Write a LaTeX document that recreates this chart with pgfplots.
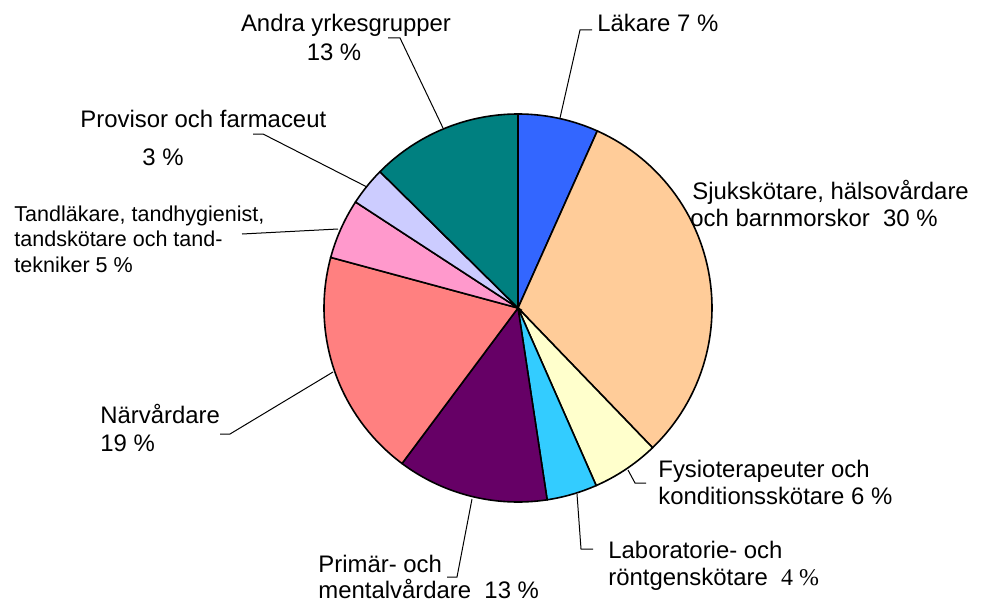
\documentclass[border=0pt]{standalone}
\usepackage{pgfplots}
\pgfplotsset{compat=1.18}
\usepackage{fontspec}
\setmainfont{Liberation Sans}
\newfontfamily\serif{Liberation Serif}

\definecolor{lakare}{HTML}{3366FF}
\definecolor{sjuk}{HTML}{FFCC99}
\definecolor{fysio}{HTML}{FFFFCC}
\definecolor{lab}{HTML}{33CCFF}
\definecolor{primar}{HTML}{660066}
\definecolor{narv}{HTML}{FF8080}
\definecolor{tand}{HTML}{FF99CC}
\definecolor{prov}{HTML}{CCCCFF}
\definecolor{andra}{HTML}{008080}

% pie in pixel units: centre (518,308), radius 194, start at top, clockwise
\pgfplotsset{slice/.style={draw=black, line width=0.8bp, samples=60, variable=\t}}
\newcommand{\lbl}{\fontsize{12}{14}\selectfont}
\newcommand{\lbs}{\fontsize{10.8}{12.6}\selectfont}

\begin{document}
\begin{tikzpicture}
\begin{axis}[
    scale only axis, width=493bp, height=302bp,
    xmin=0, xmax=986, ymin=0, ymax=604,
    y dir=reverse, hide axis, clip=false,
]
\path (axis cs:0,0) rectangle (axis cs:986,604);

% shares (percent): 6.7, 31.1, 5.6, 4.2, 12.6, 19.0, 5.0, 3.2, 12.6
% cumulative:       6.7, 37.8, 43.4, 47.6, 60.2, 79.2, 84.2, 87.4, 100
\addplot[slice, fill=lakare, domain={90-3.6*6.7}:{90-3.6*0}]
  ({518+194*cos(\t)},{308-194*sin(\t)}) -- (axis cs:518,308) -- cycle;
\addplot[slice, fill=sjuk, domain={90-3.6*37.8}:{90-3.6*6.7}]
  ({518+194*cos(\t)},{308-194*sin(\t)}) -- (axis cs:518,308) -- cycle;
\addplot[slice, fill=fysio, domain={90-3.6*43.4}:{90-3.6*37.8}]
  ({518+194*cos(\t)},{308-194*sin(\t)}) -- (axis cs:518,308) -- cycle;
\addplot[slice, fill=lab, domain={90-3.6*47.6}:{90-3.6*43.4}]
  ({518+194*cos(\t)},{308-194*sin(\t)}) -- (axis cs:518,308) -- cycle;
\addplot[slice, fill=primar, domain={90-3.6*60.2}:{90-3.6*47.6}]
  ({518+194*cos(\t)},{308-194*sin(\t)}) -- (axis cs:518,308) -- cycle;
\addplot[slice, fill=narv, domain={90-3.6*79.2}:{90-3.6*60.2}]
  ({518+194*cos(\t)},{308-194*sin(\t)}) -- (axis cs:518,308) -- cycle;
\addplot[slice, fill=tand, domain={90-3.6*84.2}:{90-3.6*79.2}]
  ({518+194*cos(\t)},{308-194*sin(\t)}) -- (axis cs:518,308) -- cycle;
\addplot[slice, fill=prov, domain={90-3.6*87.4}:{90-3.6*84.2}]
  ({518+194*cos(\t)},{308-194*sin(\t)}) -- (axis cs:518,308) -- cycle;
\addplot[slice, fill=andra, domain={90-3.6*100}:{90-3.6*87.4}]
  ({518+194*cos(\t)},{308-194*sin(\t)}) -- (axis cs:518,308) -- cycle;

% leader lines
\addplot[black, line width=0.5bp] coordinates {(592,30) (580,30) (560,118)};
\addplot[black, line width=0.5bp] coordinates {(388,38) (400,38) (443,128)};
\addplot[black, line width=0.5bp] coordinates {(253,134) (263,134) (367,187)};
\addplot[black, line width=0.5bp] coordinates {(242,234) (338,229)};
\addplot[black, line width=0.5bp] coordinates {(220,434) (230,434) (333,372)};
\addplot[black, line width=0.5bp] coordinates {(447,577) (457,577) (472,499)};
\addplot[black, line width=0.5bp] coordinates {(577,494) (581,549) (593,549)};
\addplot[black, line width=0.5bp] coordinates {(628,470) (635,483) (646,483)};

% labels
\node[anchor=base west, inner sep=0, font=\lbl] at (axis cs:597,32) {Läkare 7 \%};
\node[anchor=base, inner sep=0, font=\lbl] at (axis cs:346,32) {Andra yrkesgrupper};
\node[anchor=base, inner sep=0, font=\lbl] at (axis cs:334,61) {13 \%};
\node[anchor=base west, inner sep=0, font=\lbl] at (axis cs:80,127) {Provisor och farmaceut};
\node[anchor=base west, inner sep=0, font=\lbl] at (axis cs:142,165) {3 \%};
\node[anchor=base west, inner sep=0, font=\lbs] at (axis cs:14,221) {Tandläkare, tandhygienist,};
\node[anchor=base west, inner sep=0, font=\lbs] at (axis cs:14,246) {tandskötare och tand-};
\node[anchor=base west, inner sep=0, font=\lbs] at (axis cs:14,272) {tekniker 5 \%};
\node[anchor=base west, inner sep=0, font=\lbl] at (axis cs:100,423) {Närvårdare};
\node[anchor=base west, inner sep=0, font=\lbl] at (axis cs:100,451) {19 \%};
\node[anchor=base west, inner sep=0, font=\lbl] at (axis cs:318,572) {Primär- och};
\node[anchor=base west, inner sep=0, font=\lbl] at (axis cs:318,598) {mentalvårdare\ \ 13 \%};
\node[anchor=base west, inner sep=0, font=\lbl] at (axis cs:608,558) {Laboratorie- och};
\node[anchor=base west, inner sep=0, font=\lbl] at (axis cs:608,585) {röntgenskötare\ \ {\serif 4 \%}};
\node[anchor=base west, inner sep=0, font=\lbl] at (axis cs:658,477) {Fysioterapeuter och};
\node[anchor=base west, inner sep=0, font=\lbl] at (axis cs:658,504) {konditionsskötare 6 \%};
\node[anchor=base west, inner sep=0, font=\lbl] at (axis cs:692,199) {Sjukskötare, hälsovårdare};
\node[anchor=base west, inner sep=0, font=\lbl] at (axis cs:690,226) {och barnmorskor\ \ 30 \%};
\end{axis}
\end{tikzpicture}
\end{document}
